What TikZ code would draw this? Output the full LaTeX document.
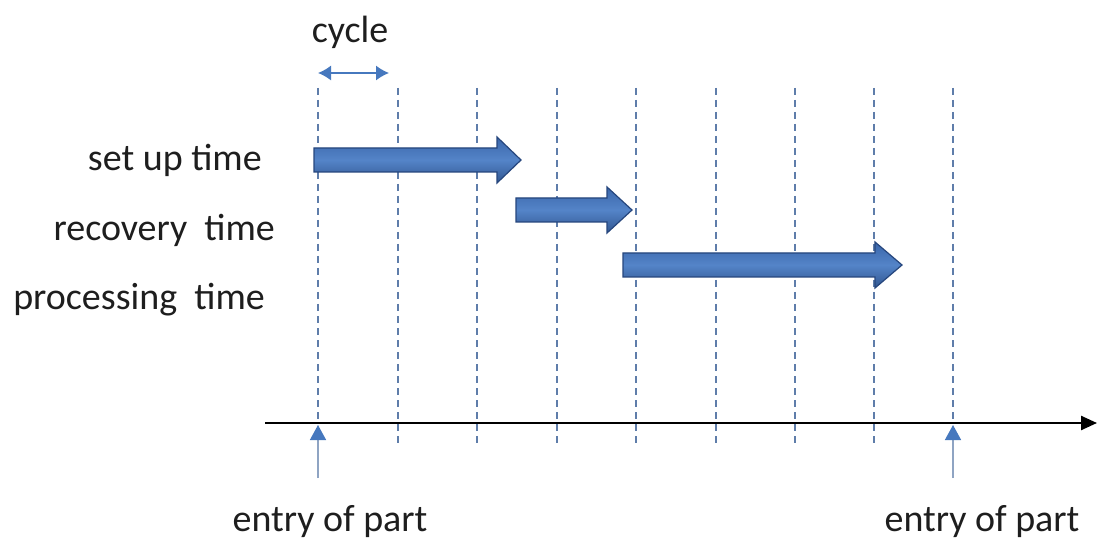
\documentclass[tikz,border=0pt]{standalone}
\usepackage{fontspec}
\setmainfont{Carlito}
\usetikzlibrary{arrows.meta}
\definecolor{barblue}{RGB}{58,102,170}
\definecolor{barlight}{RGB}{84,132,200}
\definecolor{barline}{RGB}{38,70,125}
\definecolor{gridblue}{RGB}{95,125,170}
\definecolor{entryblue}{RGB}{70,120,190}
\definecolor{txt}{RGB}{30,30,30}
\newcommand{\timebar}[4]{%
  \path[bar] (#1,#4-12) -- (#2,#4-12) -- (#2,#4-23) -- (#3,#4) -- (#2,#4+23) -- (#2,#4+12) -- (#1,#4+12) -- cycle;}
\begin{document}
\begin{tikzpicture}[x=1pt,y=-1pt,
  lbl/.style={font=\fontsize{38}{41}\selectfont, text=txt, inner sep=0pt},
  grid/.style={draw=gridblue, line width=1.6pt, dash pattern=on 7pt off 5pt},
  bar/.style={draw=barline, line width=1.2pt, top color=barblue, bottom color=barblue!85!black, middle color=barlight},
  entry/.style={draw=gridblue!70!white, line width=1.4pt, -{Triangle[length=15pt,width=16pt,fill=entryblue,color=entryblue]}},
  axis/.style={draw=black, line width=2.4pt, -{Triangle[length=16pt,width=14pt]}},
  cyc/.style={draw=entryblue, line width=1.4pt, {Latex[length=13pt,width=15pt]}-{Latex[length=13pt,width=15pt]}}
]
\useasboundingbox (0,0) rectangle (1100,545);
\fill[white] (0,0) rectangle (1100,545);

% dashed cycle lines
\foreach \x/\yb in {318/423,398/446,477/446,557/446,636/446,716/446,795/446,874/446,953/423}
  \draw[grid] (\x,88) -- (\x,\yb);

% bars
\timebar{314}{497}{521}{160}
\timebar{516}{607}{632}{210}
\timebar{623}{875}{902}{265}

% labels
\node[lbl, anchor=east] (setup) at (262,160) {set up time};
\node[lbl, anchor=east] (recovery) at (275,230) {recovery\ \ time};
\node[lbl, anchor=east] (processing) at (265,300) {processing\ \ time};
\node[lbl] (cycle) at (350,32) {cycle};

% cycle arrow
\coordinate (c1) at (318,73);
\coordinate (c2) at (389,73);
\draw[cyc] (c1) -- (c2);

% axis
\coordinate (a0) at (265,423);
\coordinate (a1) at (1097,423);
\draw[axis] (a0) -- (a1);

% entry arrows
\coordinate (e1b) at (318,478);
\coordinate (e1t) at (318,425);
\coordinate (e2b) at (953,478);
\coordinate (e2t) at (953,425);
\draw[entry] (e1b) -- (e1t);
\draw[entry] (e2b) -- (e2t);
\node[lbl] (entry1) at (330,522) {entry of part};
\node[lbl] (entry2) at (982,522) {entry of part};
\end{tikzpicture}
\end{document}
